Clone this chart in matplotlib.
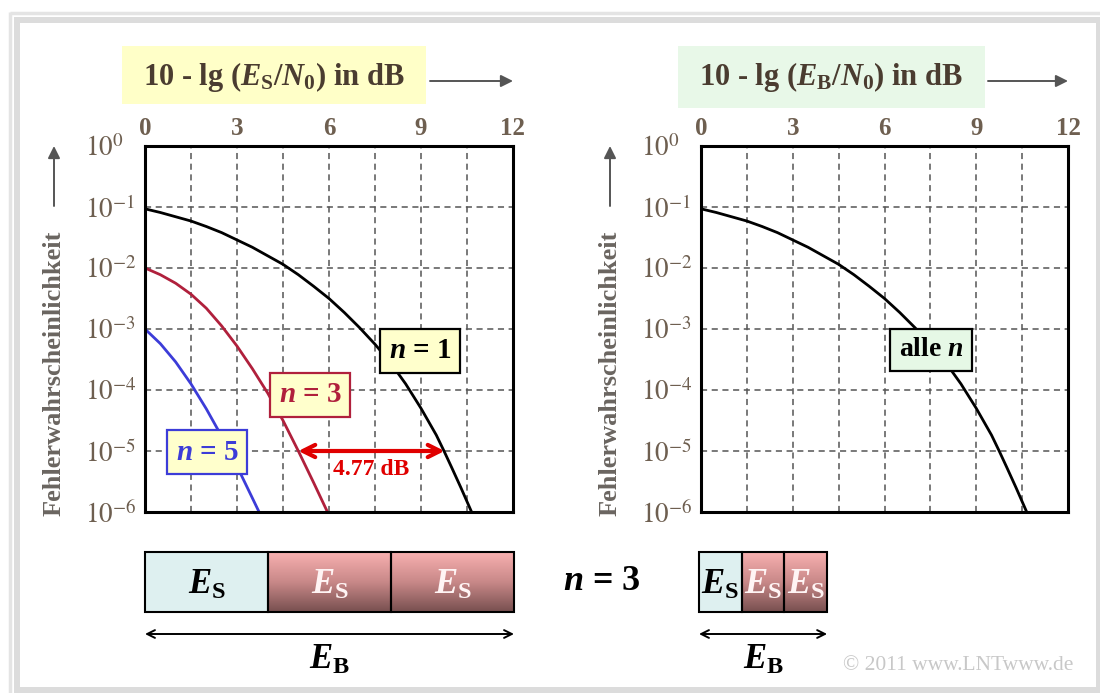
import numpy as np
import matplotlib
matplotlib.use('Agg')
import matplotlib.pyplot as plt
from matplotlib.patches import Rectangle
from matplotlib.colors import LinearSegmentedColormap
from matplotlib.ticker import NullLocator

plt.rcParams['font.family'] = ['Liberation Serif', 'DejaVu Serif']
plt.rcParams['mathtext.fontset'] = 'custom'
plt.rcParams['mathtext.rm'] = 'Liberation Serif:bold'
plt.rcParams['mathtext.it'] = 'Liberation Serif:italic:bold'
plt.rcParams['mathtext.bf'] = 'Liberation Serif:bold'

# Fehlerwahrscheinlichkeit ueber 10*lg(Es/N0), Exponenten (log10)
db_n1 = [0, 0.5, 1.0, 1.5, 2.0, 2.5, 3.0, 3.5, 4.0, 4.5, 5.0, 5.5, 6.0, 6.5, 7.0, 7.5,
         8.0, 8.5, 9.0, 9.5, 9.75, 10.0, 10.3, 10.65]
lg_n1 = [-1.03, -1.09, -1.16, -1.23, -1.32, -1.42, -1.54, -1.66, -1.80, -1.94, -2.11,
         -2.30, -2.50, -2.73, -2.98, -3.25, -3.55, -3.90, -4.30, -4.74, -5.00, -5.27,
         -5.60, -6.00]
db_n3 = [0, 0.5, 1.0, 1.5, 2.0, 2.5, 3.0, 3.5, 4.0, 4.5, 5.0, 5.5, 5.95]
lg_n3 = [-2.00, -2.11, -2.25, -2.43, -2.66, -2.95, -3.28, -3.65, -4.05, -4.50, -5.00,
         -5.52, -6.00]
db_n5 = [0, 0.5, 1.0, 1.5, 2.0, 2.5, 3.0, 3.5, 3.72]
lg_n5 = [-3.00, -3.24, -3.54, -3.90, -4.31, -4.76, -5.25, -5.77, -6.00]

gain_db = 4.77          # 10*lg(3)
gain_start = 5.0        # n=3 erreicht 1e-5 bei ca. 5 dB
n_rep = 3

x_ticks = [0, 3, 6, 9, 12]
y_ticks = [1, 1e-1, 1e-2, 1e-3, 1e-4, 1e-5, 1e-6]
y_labels = [r'$10^{0}$', r'$10^{-1}$', r'$10^{-2}$', r'$10^{-3}$',
            r'$10^{-4}$', r'$10^{-5}$', r'$10^{-6}$']

W, H = 1100, 693
tick_col = '#6e5f50'
head_col = '#4a3c30'

fig = plt.figure(figsize=(W / 100, H / 100), dpi=100)

# Hintergrund-Achse in Pixelkoordinaten (oben links = 0,0)
bg = fig.add_axes([0, 0, 1, 1])
bg.set_xlim(0, W)
bg.set_ylim(H, 0)
bg.axis('off')

# Rahmen
bg.plot([9.5, 9.5], [12, H], color='#e4e4e4', lw=2.5, solid_capstyle='butt')
bg.plot([9.5, W], [12.5, 12.5], color='#e4e4e4', lw=2.5, solid_capstyle='butt')
bg.add_patch(Rectangle((17, 19.5), 1082, 670, fill=False, ec='#dcdcdc', lw=4.3))


def setup(ax):
    ax.set_xlim(0, 12)
    ax.set_yscale('log')
    ax.set_ylim(1e-6, 1)
    ax.xaxis.tick_top()
    ax.set_xticks(x_ticks)
    ax.set_xticklabels([str(t) for t in x_ticks], fontsize=18, fontweight='bold', color=tick_col)
    ax.set_xticks(np.arange(0, 12.01, 1.5), minor=True)
    ax.yaxis.set_minor_locator(NullLocator())
    ax.set_yticks(y_ticks)
    ax.set_yticklabels(y_labels, fontsize=19.5, color=tick_col, ha='left')
    for t in ax.get_yticklabels():
        t.set_math_fontfamily('stix')
    ax.tick_params(which='both', length=0)
    ax.tick_params(axis='x', pad=4)
    ax.tick_params(axis='y', pad=43)
    ax.set_axisbelow(True)
    ax.grid(which='both', axis='x', ls=(0, (4, 3)), color='#555555', lw=1.1)
    ax.grid(which='major', axis='y', ls=(0, (4, 3)), color='#555555', lw=1.1)
    for s in ax.spines.values():
        s.set_linewidth(2.2)
        s.set_color('black')


axL = fig.add_axes([145 / W, 1 - 512 / H, 368 / W, 366 / H])
axR = fig.add_axes([701 / W, 1 - 512 / H, 367 / W, 366 / H])
setup(axL)
setup(axR)

# linkes Diagramm: ueber Es/N0
axL.plot(db_n1, 10 ** np.array(lg_n1), color='black', lw=2)
axL.plot(db_n3, 10 ** np.array(lg_n3), color='#b0203c', lw=2)
axL.plot(db_n5, 10 ** np.array(lg_n5), color='#3c3cd8', lw=2)

axL.annotate('', xy=(gain_start + gain_db, 1e-5), xytext=(gain_start, 1e-5),
             arrowprops=dict(arrowstyle='<->', color='#e00000', lw=3, mutation_scale=22,
                             shrinkA=0, shrinkB=0))
axL.text(gain_start + gain_db / 2, 10 ** -5.3, '%.2f dB' % gain_db, color='#e00000',
         fontsize=17, fontweight='bold', ha='center', va='center')

box = dict(boxstyle='square,pad=0.3', fc='#ffffcc', lw=1.6)
axL.text(8.97, 10 ** -3.36, r'$n$ = 1', fontsize=21, fontweight='bold', color='black',
         ha='center', va='center', bbox=dict(box, ec='black'))
axL.text(5.38, 10 ** -4.08, r'$n$ = 3', fontsize=21, fontweight='bold', color='#b0203c',
         ha='center', va='center', bbox=dict(box, ec='#b0203c'))
axL.text(2.02, 10 ** -5.02, r'$n$ = 5', fontsize=21, fontweight='bold', color='#3c3cd8',
         ha='center', va='center', bbox=dict(box, ec='#3c3cd8'))

# rechtes Diagramm: ueber Eb/N0, alle Kurven fallen zusammen
axR.plot(db_n1, 10 ** np.array(lg_n1), color='black', lw=2)
axR.text(7.52, 10 ** -3.34, r'alle $n$', fontsize=20, fontweight='bold', color='black',
         ha='center', va='center',
         bbox=dict(boxstyle='square,pad=0.3', fc='#e6f8e6', ec='black', lw=1.6))

# Achsenbeschriftungen oben
bg.add_patch(Rectangle((122, 46), 304, 58, fc='#ffffc8', ec='none'))
bg.text(274, 77, r'10 - lg ($E_{\rm S}/N_0$) in dB', fontsize=22, fontweight='bold',
        color=head_col, ha='center', va='center')
bg.add_patch(Rectangle((678, 46), 307, 62, fc='#e8f8e8', ec='none'))
bg.text(831, 77, r'10 - lg ($E_{\rm B}/N_0$) in dB', fontsize=22, fontweight='bold',
        color=head_col, ha='center', va='center')
for x0, x1 in [(430, 513), (988, 1068)]:
    bg.annotate('', xy=(x1, 81), xytext=(x0, 81),
                arrowprops=dict(arrowstyle='-|>', color='#555555', lw=1.4, mutation_scale=18,
                                shrinkA=0, shrinkB=0))

# y-Beschriftung mit Pfeil
for xl in [54, 610]:
    bg.text(xl, 373, 'Fehlerwahrscheinlichkeit', rotation=90, fontsize=19, fontweight='bold',
            color='#6a6560', ha='center', va='center')
    bg.annotate('', xy=(xl, 146), xytext=(xl, 206),
                arrowprops=dict(arrowstyle='-|>', color='#555555', lw=1.4, mutation_scale=18,
                                shrinkA=0, shrinkB=0))

# Energieaufteilung: Es je Symbol, Eb = n * Es
pink = LinearSegmentedColormap.from_list('pink', ['#f8b0b0', '#c88888', '#785050'])
grad = np.linspace(0, 1, 100).reshape(-1, 1)


def blocks(x0, w, fs):
    y0, h = 552, 60
    for i in range(n_rep):
        xs = x0 + i * w
        if i == 0:
            bg.add_patch(Rectangle((xs, y0), w, h, fc='#def0f0', ec='none'))
            col = 'black'
        else:
            bg.imshow(grad, cmap=pink, extent=(xs, xs + w, y0 + h, y0), aspect='auto',
                      zorder=1)
            col = '#fff4f4'
        bg.add_patch(Rectangle((xs, y0), w, h, fill=False, ec='black', lw=1.5, zorder=2))
        bg.text(xs + w / 2, y0 + h / 2 + 3, r'$E_{\rm S}$', fontsize=fs, color=col,
                ha='center', va='center', zorder=3)
    x1 = x0 + n_rep * w
    bg.annotate('', xy=(x1, 634), xytext=(x0, 634),
                arrowprops=dict(arrowstyle='<->', color='black', lw=1.4, mutation_scale=14,
                                shrinkA=0, shrinkB=0))
    bg.text((x0 + x1) / 2, 660, r'$E_{\rm B}$', fontsize=25, color='black',
            ha='center', va='center')


blocks(145, 123, 25)
blocks(699, 42.7, 25)
bg.set_xlim(0, W)
bg.set_ylim(H, 0)

bg.text(602, 582, r'$n$ = %d' % n_rep, fontsize=26, fontweight='bold', color='black',
        ha='center', va='center')
bg.text(958, 666, '© 2011 www.LNTwww.de', fontsize=15.5, color='#c8c8c8',
        ha='center', va='center')

fig.savefig('out.png', dpi=100)
